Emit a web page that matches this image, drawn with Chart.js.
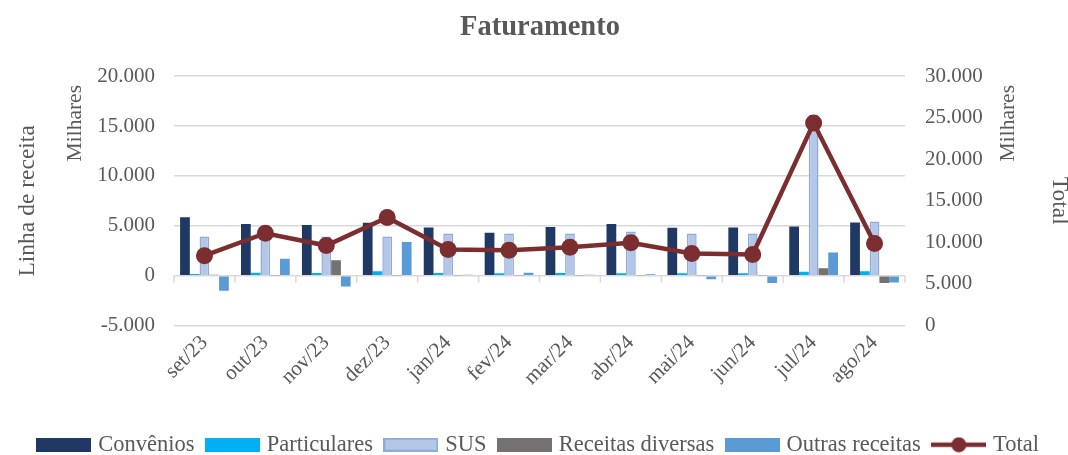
<!DOCTYPE html>
<html><head><meta charset="utf-8">
<script src="https://cdn.jsdelivr.net/npm/chart.js@4.4.1/dist/chart.umd.min.js"></script>
<style>html,body{margin:0;padding:0;background:#fff;}#wrap{width:1068px;height:455px;}</style>
</head><body><div id="wrap"><canvas id="c" width="1068" height="455"></canvas></div>
<script>
// ---- data (values in R$, axis in "Milhares") ----
const categories = ['set/23','out/23','nov/23','dez/23','jan/24','fev/24','mar/24','abr/24','mai/24','jun/24','jul/24','ago/24'];
const convenios = [5850,5170,5070,5300,4830,4290,4870,5170,4800,4830,4930,5340];
const particulares = [170,300,270,440,270,240,270,240,240,240,400,440];
const sus = [3920,3920,3920,3920,4220,4220,4220,4430,4220,4220,16100,5440];
const receitasDiversas = [100,50,1550,30,30,30,30,30,50,30,740,-740];
const outrasReceitas = [-1520,1690,-1080,3380,100,300,100,130,-350,-740,2330,-680];
const total = [8400,11100,9620,13000,9150,9060,9420,9950,8660,8540,24360,9870];
const leftAxis = {min:-5000, max:20000, step:5000};
const rightAxis = {min:0, max:30000, step:5000};

const F = "'Liberation Serif', 'DejaVu Serif', serif";
const TXT = '#595959';
const COL = {conv:'#1F3864', part:'#00B0F0', sus:'#B4C7E7', susB:'#8FAADC', rec:'#767171', out:'#5B9BD5', tot:'#7B2D30'};

function fmt(v){
  const neg = v < 0; let s = Math.abs(Math.round(v)).toString();
  s = s.replace(/\B(?=(\d{3})+(?!\d))/g, '.');
  return (neg ? '-' : '') + s;
}

function boxImg(fill, stroke){
  const c = document.createElement('canvas'); c.width = 55; c.height = 14;
  const x = c.getContext('2d');
  x.fillStyle = fill; x.fillRect(0,0,55,14);
  if (stroke){ x.strokeStyle = stroke; x.lineWidth = 2; x.strokeRect(1,1,53,12); }
  return c;
}
function lineImg(color){
  const c = document.createElement('canvas'); c.width = 55; c.height = 16;
  const x = c.getContext('2d');
  x.strokeStyle = color; x.lineWidth = 4.5; x.beginPath(); x.moveTo(0,8); x.lineTo(55,8); x.stroke();
  x.fillStyle = color; x.beginPath(); x.arc(27.5,8,7.5,0,Math.PI*2); x.fill();
  return c;
}
const legendImgs = [boxImg(COL.conv), boxImg(COL.part), boxImg(COL.sus, COL.susB), boxImg(COL.rec), boxImg(COL.out), lineImg(COL.tot)];

const extras = {
  id:'extras',
  beforeDatasetsDraw(chart){
    const {ctx, scales:{x, y}} = chart;
    const y0 = y.getPixelForValue(0);
    ctx.save(); ctx.strokeStyle = '#D9D9D9'; ctx.lineWidth = 1.5;
    const w = x.width / categories.length;
    for (let i = 0; i <= categories.length; i++){
      const px = x.left + i*w;
      ctx.beginPath(); ctx.moveTo(px, y0); ctx.lineTo(px, y0 + 7); ctx.stroke();
    }
    ctx.restore();
  },
  afterDraw(chart){
    const {ctx, chartArea} = chart;
    ctx.save(); ctx.fillStyle = TXT; ctx.font = "21.5px " + F; ctx.textAlign = 'center'; ctx.textBaseline = 'middle';
    const cy = chartArea.top + 47;
    [[75, cy],[1008, cy]].forEach(([px, py]) => {
      ctx.save(); ctx.translate(px, py); ctx.rotate(-Math.PI/2); ctx.fillText('Milhares', 0, 0); ctx.restore();
    });
    ctx.restore();
  }
};

const barCommon = {type:'bar', yAxisID:'y', categoryPercentage:0.8, barPercentage:1.0, borderWidth:0};

new Chart(document.getElementById('c'), {
  data: {
    labels: categories,
    datasets: [
      {...barCommon, label:'Convênios', data:convenios, backgroundColor:COL.conv},
      {...barCommon, label:'Particulares', data:particulares, backgroundColor:COL.part},
      {...barCommon, label:'SUS', data:sus, backgroundColor:COL.sus, borderColor:COL.susB, borderWidth:1.5},
      {...barCommon, label:'Receitas diversas', data:receitasDiversas, backgroundColor:COL.rec},
      {...barCommon, label:'Outras receitas', data:outrasReceitas, backgroundColor:COL.out},
      {type:'line', label:'Total', data:total, yAxisID:'y1', order:-1, borderColor:COL.tot, backgroundColor:COL.tot,
       borderWidth:4.5, pointRadius:8.5, pointBackgroundColor:COL.tot, pointBorderWidth:0, tension:0}
    ]
  },
  options: {
    responsive:false, animation:false,
    layout:{padding:{left:12,right:0,top:0,bottom:-11}},
    plugins:{
      title:{display:true, text:'Faturamento', color:TXT, font:{family:F, size:28.5, weight:'bold'}, padding:{top:11, bottom:31}},
      legend:{position:'bottom',
        labels:{usePointStyle:true, pointStyleWidth:46, boxHeight:14, padding:15, color:TXT, font:{family:F, size:22.5},
          sort:(a,b)=>a.datasetIndex-b.datasetIndex,
          generateLabels(chart){
            const items = Chart.defaults.plugins.legend.labels.generateLabels(chart);
            items.forEach(it => { it.pointStyle = legendImgs[it.datasetIndex]; });
            return items;
          }}},
      tooltip:{enabled:false}
    },
    scales:{
      x:{grid:{display:false}, border:{display:false},
         ticks:{color:TXT, font:{family:F, size:21}, minRotation:45, maxRotation:45, padding:-3},
         afterFit(s){ s.height = 93; }},
      y:{position:'left', min:leftAxis.min, max:leftAxis.max,
         ticks:{stepSize:leftAxis.step, color:TXT, font:{family:F, size:21}, padding:19, callback:v=>fmt(v)},
         grid:{color:'#D9D9D9', lineWidth:1.5, drawTicks:false}, border:{display:false},
         title:{display:true, text:'Linha de receita', color:TXT, font:{family:F, size:23.5}, padding:{top:2}},
         afterFit(s){ s.width = 162; }},
      y1:{position:'right', min:rightAxis.min, max:rightAxis.max,
         ticks:{stepSize:rightAxis.step, color:TXT, font:{family:F, size:21}, padding:20, callback:v=>fmt(v)},
         grid:{display:false, drawTicks:false}, border:{display:false},
         title:{display:true, text:'Total', color:TXT, font:{family:F, size:23.5}, padding:{top:-5}},
         afterFit(s){ s.width = 163; }}
    }
  },
  plugins:[extras]
});
</script></body></html>
